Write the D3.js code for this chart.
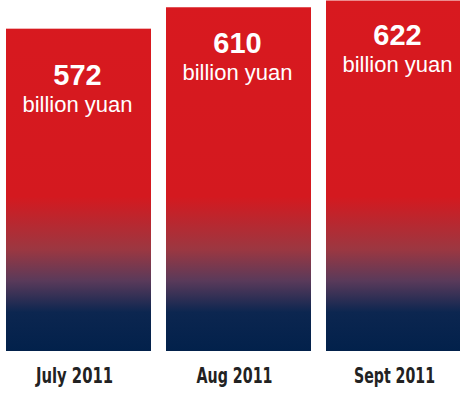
<!DOCTYPE html>
<html>
<head>
<meta charset="utf-8">
<script src="https://cdn.jsdelivr.net/npm/d3@7"></script>
<style>
  html, body { margin: 0; padding: 0; background: #fff; }
  svg { display: block; }
</style>
</head>
<body>
<script>
var months = ['July 2011', 'Aug 2011', 'Sept 2011'];
var values = [572, 610, 622];
var unitLabel = 'billion yuan';

var width = 460, height = 394;
var barBottom = 351;
// where each value label sits below its bar top
var labelDy = [56, 46, 44];
// the month labels are set in a narrow face, squeeze them to match
var monthWidth = [77, 76, 81];

var svg = d3.select('body').append('svg')
    .attr('width', width)
    .attr('height', height);

var x = d3.scaleBand()
    .domain(months)
    .range([6, 471])
    .paddingInner(15 / 160)
    .paddingOuter(0);

var y = d3.scaleLinear()
    .domain([0, 622])
    .range([barBottom, 0.5]);

var grad = svg.append('defs').append('linearGradient')
    .attr('id', 'barFade')
    .attr('gradientUnits', 'userSpaceOnUse')
    .attr('x1', 0).attr('x2', 0)
    .attr('y1', 0).attr('y2', barBottom);

[[0, '#d8191f'], [0.56, '#d4191f'], [0.71, '#9c3741'], [0.8, '#5a3a5a'],
 [0.89, '#0c2650'], [1, '#02214b']].forEach(function (s) {
  grad.append('stop')
    .attr('offset', s[0])
    .attr('stop-color', s[1]);
});

var data = months.map(function (m, i) { return {month: m, value: values[i], i: i}; });

svg.selectAll('rect.bar')
  .data(data)
  .enter()
    .append('rect')
    .attr('class', 'bar')
    .attr('x', function (d) { return x(d.month); })
    .attr('y', function (d) { return y(d.value); })
    .attr('width', x.bandwidth())
    .attr('height', function (d) { return barBottom - y(d.value); })
    .attr('fill', 'url(#barFade)');

var labels = svg.selectAll('g.lbl')
  .data(data)
  .enter()
    .append('g')
    .attr('class', 'lbl')
    .attr('transform', function (d) {
      return 'translate(' + (x(d.month) + x.bandwidth() / 2 - 1) + ',' + (y(d.value) + labelDy[d.i]) + ')';
    });

labels.append('text')
    .attr('text-anchor', 'middle')
    .attr('fill', '#fff')
    .style('font-family', '"Liberation Sans", Arial, sans-serif')
    .style('font-weight', 'bold')
    .style('font-size', '29px')
    .text(function (d) { return d.value; });

labels.append('text')
    .attr('y', 27)
    .attr('text-anchor', 'middle')
    .attr('fill', '#fff')
    .style('font-family', '"Liberation Sans", Arial, sans-serif')
    .style('font-size', '22px')
    .text(unitLabel);

var xAxis = svg.append('g')
    .attr('transform', 'translate(-4,' + barBottom + ')')
    .call(d3.axisBottom(x).tickSize(0).tickPadding(32));

xAxis.select('.domain').remove();
xAxis.selectAll('text')
    .attr('fill', '#222')
    .attr('dy', 0)
    .attr('textLength', function (d, i) { return monthWidth[i]; })
    .attr('lengthAdjust', 'spacingAndGlyphs')
    .style('font-family', '"DejaVu Sans Condensed", "DejaVu Sans", sans-serif')
    .style('font-weight', 'bold')
    .style('font-size', '22px');
</script>
</body>
</html>
